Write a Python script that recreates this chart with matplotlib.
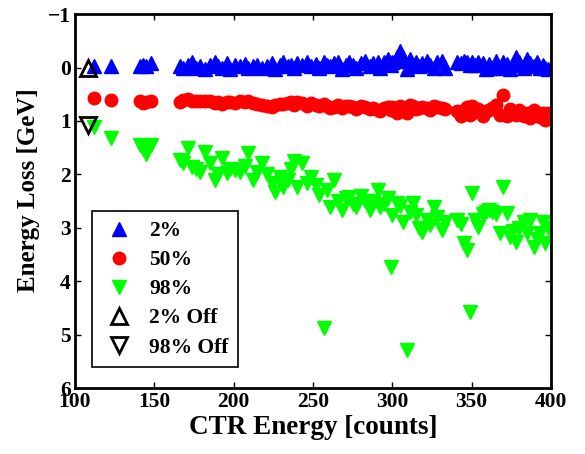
from matplotlib import pyplot as plt

plt.rcParams['font.family'] = ['Liberation Serif', 'DejaVu Serif']
plt.rcParams['font.weight'] = 'bold'

# CTR energy per shot (shared by all three series)
ctr = [112, 123, 141, 143, 145, 148, 166, 168, 171, 174, 176, 179, 182, 185,
       188, 190, 193, 196, 198, 201, 204, 207, 209, 212, 215, 218, 221, 224,
       226, 229, 231, 234, 236, 238, 240, 243, 246, 249, 252, 254, 257, 259,
       261, 263, 266, 268, 271, 273, 275, 277, 280, 283, 286, 288, 291, 292,
       295, 297, 299, 300, 303, 305, 307, 309, 311, 313, 315, 317, 319, 322,
       324, 326, 328, 331, 333, 341, 343, 345, 347, 349, 350, 352, 354, 357,
       359, 361, 363, 365, 368, 370, 372, 374, 376, 378, 380, 383, 385, 387,
       389, 391, 393, 395, 396, 398]

loss2 = [-0.02, -0.02, -0.02, -0.05, -0.02, -0.08, -0.02, 0.0, -0.05, -0.1,
         0.0, -0.02, 0.02, -0.05, -0.1, -0.02, 0.0, -0.08, 0.02, -0.05, -0.03,
         -0.06, 0.0, -0.02, -0.05, 0.0, -0.03, -0.08, 0.02, -0.05, -0.1, -0.02,
         -0.05, 0.0, -0.08, -0.05, -0.1, -0.02, -0.06, 0.0, -0.1, -0.05, -0.02,
         -0.08, -0.1, 0.02, -0.05, -0.1, -0.04, 0.0, -0.08, -0.12, -0.02,
         -0.08, -0.1, 0.0, -0.1, -0.15, -0.05, -0.1, -0.2, -0.3, -0.12, 0.02,
         -0.15, -0.05, -0.1, -0.02, -0.08, -0.12, -0.04, 0.0, -0.1, -0.12, 0.0,
         -0.1, -0.08, -0.12, -0.1, -0.05, -0.1, -0.05, -0.1, -0.08, 0.02,
         -0.06, 0.0, -0.12, 0.0, -0.1, -0.06, 0.02, -0.05, -0.2, -0.1, 0.0,
         -0.15, -0.08, -0.02, -0.1, 0.0, -0.05, 0.0, 0.02]

loss50 = [0.57, 0.6, 0.63, 0.66, 0.64, 0.62, 0.65, 0.6, 0.58, 0.63, 0.62,
          0.63, 0.62, 0.62, 0.66, 0.65, 0.68, 0.64, 0.64, 0.66, 0.63, 0.65,
          0.62, 0.66, 0.68, 0.7, 0.72, 0.74, 0.7, 0.68, 0.68, 0.66, 0.65, 0.7,
          0.64, 0.66, 0.72, 0.66, 0.7, 0.72, 0.68, 0.72, 0.75, 0.74, 0.7, 0.76,
          0.72, 0.72, 0.74, 0.78, 0.72, 0.74, 0.78, 0.76, 0.8, 0.82, 0.76, 0.74,
          0.8, 0.74, 0.86, 0.72, 0.8, 0.86, 0.7, 0.72, 0.78, 0.76, 0.74, 0.76,
          0.8, 0.72, 0.74, 0.76, 0.78, 0.82, 0.9, 0.8, 0.74, 0.88, 0.72, 0.84,
          0.78, 0.9, 0.82, 0.8, 0.75, 0.7, 0.88, 0.52, 0.9, 0.78, 0.82, 0.88,
          0.8, 0.9, 0.85, 0.95, 0.8, 0.88, 0.92, 0.86, 0.98, 0.85]

loss98 = [1.12, 1.32, 1.45, 1.52, 1.61, 1.45, 1.73, 1.78, 1.51, 1.86, 1.9,
          1.95, 1.58, 1.79, 2.1, 2.0, 1.7, 1.98, 1.9, 1.92, 1.95, 1.85, 1.6,
          2.1, 1.95, 1.79, 2.0, 2.16, 2.33, 2.05, 2.24, 2.1, 1.9, 1.74, 2.24,
          1.79, 2.17, 2.05, 2.2, 2.39, 4.88, 2.3, 2.61, 2.11, 2.5, 2.67, 2.45,
          2.42, 2.55, 2.61, 2.4, 2.5, 2.67, 2.5, 2.3, 2.61, 2.55, 2.45, 3.73,
          2.76, 2.54, 2.6, 2.9, 5.29, 2.7, 2.54, 2.76, 3.0, 3.08, 2.86, 2.95,
          2.61, 2.8, 3.04, 2.9, 2.85, 2.92, 3.29, 3.42, 4.58, 2.35, 2.86, 2.98,
          2.75, 2.7, 2.67, 2.7, 2.75, 3.1, 2.23, 2.73, 3.17, 3.05, 3.27, 3.0,
          2.9, 3.1, 2.86, 3.36, 3.2, 3.1, 2.9, 3.29, 3.0]

# calorimeter-off shots
off_ctr = [108]
off2 = [0.0]
off98 = [1.08]

fig = plt.figure(figsize=(5.85, 4.54), dpi=100)
ax = fig.add_axes([0.128, 0.145, 0.814, 0.824])

ax.plot(ctr, loss2, '^', color='b', ms=10.5, mec='b', label='2%')
ax.plot(ctr, loss50, 'o', color='r', ms=9, mec='r', label='50%')
ax.plot(ctr, loss98, 'v', color='#00ff00', ms=10.5, mec='#00ff00', label='98%')
ax.plot(off_ctr, off2, '^', mfc='none', mec='k', mew=2, ms=12, label='2% Off')
ax.plot(off_ctr, off98, 'v', mfc='none', mec='k', mew=2, ms=12, label='98% Off')

ax.set_xlim(100, 400)
ax.set_ylim(6, -1)
ax.set_xticks([100, 150, 200, 250, 300, 350, 400])
ax.set_yticks(range(-1, 7))
ax.tick_params(direction='in', top=True, right=True, length=4, width=1,
               labelsize=15.5, pad=3)
for s in ax.spines.values():
    s.set_linewidth(2)

ax.set_xlabel('CTR Energy [counts]', fontsize=19.5, fontweight='bold', labelpad=2)
ax.set_ylabel('Energy Loss [GeV]', fontsize=18, fontweight='bold')
ax.yaxis.set_label_coords(-0.074, 0.53)

leg = ax.legend(loc='lower left', bbox_to_anchor=(0.036, 0.056), fontsize=15.5,
                fancybox=False, edgecolor='k', framealpha=1, borderaxespad=0,
                labelspacing=0.42, handletextpad=0.6, borderpad=0.45,
                handlelength=1.6)
leg.get_frame().set_linewidth(1.2)

plt.savefig('out.png')
